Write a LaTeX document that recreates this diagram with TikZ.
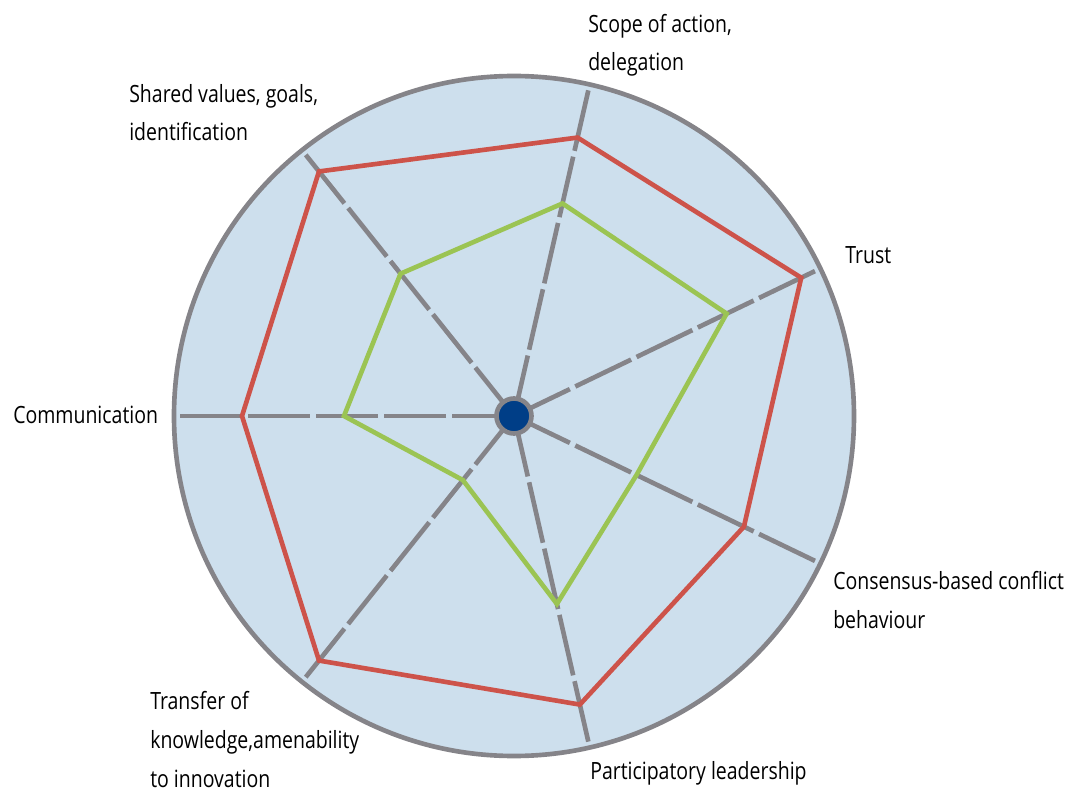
\documentclass[tikz,border=0pt]{standalone}
\usepackage{fontspec}
\newfontfamily\labelfont[FakeStretch=0.82]{Open Sans}
\definecolor{discblue}{HTML}{CDDFED}
\definecolor{spokegray}{HTML}{858489}
\definecolor{profilered}{HTML}{CD534A}
\definecolor{profilegreen}{HTML}{9BC453}
\definecolor{hubblue}{HTML}{003E87}

\begin{document}
\begin{tikzpicture}[
    spoke/.style={draw=spokegray, line width=3.3pt, dash pattern=on 1.55cm off 0.15cm},
    profile/.style={line width=3.3pt, line join=miter},
    hub/.style={circle, fill=hubblue, draw=spokegray, line width=3.3pt, inner sep=0pt, minimum size=0.875cm},
    axislabel/.style={anchor=base west, inner sep=0pt, align=left, font=\labelfont\fontsize{16.9}{27.7}\selectfont}
  ]
  \useasboundingbox (-12.85,-9.4) rectangle (14.2,10.4);

  % disc
  \fill[discblue] (0,0) circle (8.5);

  % axis ends on the rim
  \coordinate (comm) at (180:8.5);
  \coordinate (shared) at (128.57:8.5);
  \coordinate (scope) at (77.14:8.5);
  \coordinate (trust) at (25.71:8.5);
  \coordinate (consensus) at (-25.71:8.5);
  \coordinate (particip) at (-77.14:8.5);
  \coordinate (transfer) at (-128.57:8.5);
  \coordinate (mid) at (0,0);

  \foreach \axis in {comm,shared,scope,trust,consensus,particip,transfer}
    \draw[spoke] (mid) -- (\axis);

  % profiles
  \draw[profile, draw=profilered] (180:6.8) -- (128.57:7.82) -- (77.14:7.14) -- (25.71:7.97)
    -- (-25.71:6.38) -- (-77.14:7.4) -- (-128.57:7.82) -- cycle;
  \draw[profile, draw=profilegreen] (180:4.25) -- (128.57:4.55) -- (77.14:5.45) -- (25.71:5.9)
    -- (-25.71:3.4) -- (-77.14:4.82) -- (-128.57:2.05) -- cycle;

  % rim and hub
  \draw[spokegray, line width=3.3pt] (mid) circle (8.5);
  \node[hub] (hubdot) at (mid) {};

  % labels (base = last line)
  \node[axislabel] (lscope) at (1.85,8.625) {Scope of action,\\delegation};
  \node[axislabel] (lshared) at (-9.625,6.875) {Shared values, goals,\\identification};
  \node[axislabel] (ltrust) at (8.275,3.8) {Trust};
  \node[axislabel] (lcomm) at (-12.525,-0.175) {Communication};
  \node[axislabel] (lconsensus) at (7.975,-5.3) {Consensus-based conflict\\behaviour};
  \node[axislabel] (ltransfer) at (-9.1,-9.28) {Transfer of\\knowledge,amenability\\to innovation};
  \node[axislabel] (lparticip) at (1.9,-9.075) {Participatory leadership};
\end{tikzpicture}
\end{document}
